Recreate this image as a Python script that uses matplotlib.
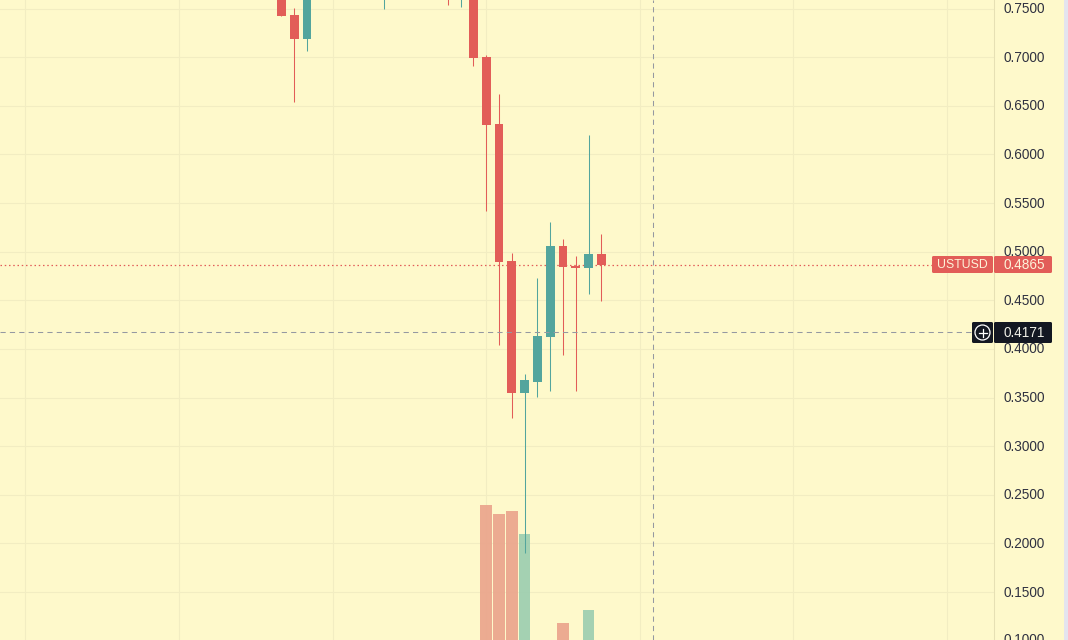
import matplotlib
matplotlib.use('Agg')
import matplotlib.pyplot as plt
from matplotlib.patches import Rectangle, FancyBboxPatch, Circle
from matplotlib.transforms import ScaledTranslation

# candles, numbered from the first one on screen
bar_no = [0, 1, 2, 8, 13, 14, 15, 16, 17, 18, 19, 20, 21, 22, 23, 24, 25]
opens = [0.7800, 0.7433, 0.7186, 0.7700, 0.8000, 0.7800, 0.8000, 0.7001, 0.6312, 0.4904,
         0.3550, 0.3660, 0.4126, 0.5058, 0.4852, 0.4835, 0.4976]
highs = [0.7900, 0.7505, 0.8100, 0.7900, 0.8100, 0.8100, 0.8100, 0.7022, 0.6621, 0.4986,
         0.3742, 0.4729, 0.5305, 0.5130, 0.4955, 0.6199, 0.5181]
lows = [0.7423, 0.6542, 0.7066, 0.7498, 0.7539, 0.7519, 0.6912, 0.5421, 0.4040, 0.3293,
        0.1905, 0.3509, 0.3570, 0.3940, 0.3570, 0.4568, 0.4496]
closes = [0.7423, 0.7186, 0.8000, 0.7800, 0.7800, 0.8000, 0.6994, 0.6305, 0.4894, 0.3550,
          0.3680, 0.4133, 0.5058, 0.4845, 0.4832, 0.4976, 0.4866]

# volume bars on screen, in arbitrary units out of 640
vol_no = [16, 17, 18, 19, 22, 24]
vol_vals = [135, 126, 129, 106, 17, 30]
vol_up = [False, False, False, True, False, True]

price_ticks = [0.15, 0.20, 0.25, 0.30, 0.35, 0.40, 0.45, 0.50, 0.55, 0.60, 0.65, 0.70, 0.75]
time_grid = [-20, -8, 4, 16, 28, 40, 52]
last_price = 0.4865
cross_price = 0.4171
cross_bar = 29

BG = '#fef9cb'
RED = '#e25d58'
TEAL = '#53a59d'
VOL_RED = '#eba78e'
VOL_TEAL = '#9fcfb1'
GRID = '#f2edc2'
TEXT = '#2f3140'
FONT = 'Liberation Sans'

fig = plt.figure(figsize=(10.68, 6.4), dpi=100, facecolor=BG)
ax = fig.add_axes([0, 0, 994 / 1068, 1], facecolor=BG, zorder=1)

# grid + axes
ax.set_xlim(-281.4 / 12.8, (994 - 281.4) / 12.8)
ax.set_ylim(0.75 - 631.5 / 972.6, 0.75 + 8.5 / 972.6)
ax.set_xticks(time_grid)
ax.grid(True, color=GRID, lw=0.75)
ax.yaxis.tick_right()
ax.set_yticks(price_ticks)
ax.set_yticklabels(['%.4f' % t for t in price_ticks], color=TEXT, fontsize=9.8, family=FONT)
ax.tick_params(axis='y', length=0, pad=7)
ax.tick_params(axis='x', length=0, labelbottom=False)
ax.set_axisbelow(True)
for name, sp in ax.spines.items():
    sp.set_visible(name == 'right')
ax.spines['right'].set_color('#e6e0b4')
ax.spines['right'].set_linewidth(0.75)

# labels sit about a pixel above their grid lines
nudge = ScaledTranslation(0, 1 / 100, fig.dpi_scale_trans)
for lab in ax.get_yticklabels():
    lab.set_transform(lab.get_transform() + nudge)

# volume, height as a share of the pane
for n, v, up in zip(vol_no, vol_vals, vol_up):
    ax.bar(n, v / 640, width=0.92, color=VOL_TEAL if up else VOL_RED, linewidth=0,
           transform=ax.get_xaxis_transform(), zorder=1.5, alpha=0.95)

# candles
for n, o, h, l, c in zip(bar_no, opens, highs, lows, closes):
    col = TEAL if c >= o else RED
    ax.vlines(n, l, h, color=col, lw=0.75, zorder=3)
    ax.bar(n, abs(c - o), bottom=min(o, c), width=0.7, color=col, linewidth=0, zorder=4)

# last price and crosshair
ax.axhline(last_price, color=RED, lw=0.9, ls=(0, (1.2, 2.2)), zorder=2)
ax.axhline(cross_price, color='#9598a1', lw=0.75, ls=(0, (5, 4)), zorder=5)
ax.axvline(cross_bar, color='#9598a1', lw=0.75, ls=(0, (5, 4)), zorder=5)

# 0.1000 label, cut by the bottom edge like in the original
ax.annotate('0.1000', xy=(1, 0.10), xycoords=ax.get_yaxis_transform(), xytext=(7, 0.7),
            textcoords='offset points', ha='left', va='center', color=TEXT, fontsize=9.8,
            family=FONT, annotation_clip=False)

# overlay in pixels for the price badges
ov = fig.add_axes([0, 0, 1, 1], zorder=3)
ov.set_xlim(0, 1068)
ov.set_ylim(640, 0)
ov.axis('off')


def badge(x0, x1, y0, y1, col):
    ov.add_patch(FancyBboxPatch((x0 + 1, y0 + 1), x1 - x0 - 2, y1 - y0 - 2,
                                boxstyle='round,pad=1,rounding_size=1.5',
                                fc=col, ec='none', mutation_aspect=1))


ov.add_patch(Rectangle((1064, 0), 4, 640, fc='#e4e4ee', ec='none'))
badge(932, 993, 256, 273, RED)
badge(994, 1052, 256, 273, RED)
ov.text(962.5, 265, 'USTUSD', color='#fdf3d8', fontsize=8.8, family=FONT, ha='center', va='center')
ov.text(1024, 265, '%.4f' % last_price, color='#fdf3d8', fontsize=9.8, family=FONT, ha='center', va='center')

badge(972, 993, 322, 343, '#131722')
badge(994, 1052, 322, 343, '#131722')
ov.text(1024, 332.7, '%.4f' % cross_price, color='#f0f0e8', fontsize=9.8, family=FONT, ha='center', va='center')
ov.add_patch(Circle((982.5, 332.5), 7.5, fc='none', ec='white', lw=0.9))
ov.plot([978.5, 986.5], [332.5, 332.5], color='white', lw=0.9)
ov.plot([982.5, 982.5], [328.5, 336.5], color='white', lw=0.9)

fig.savefig('out.png', dpi=100, facecolor=BG)
